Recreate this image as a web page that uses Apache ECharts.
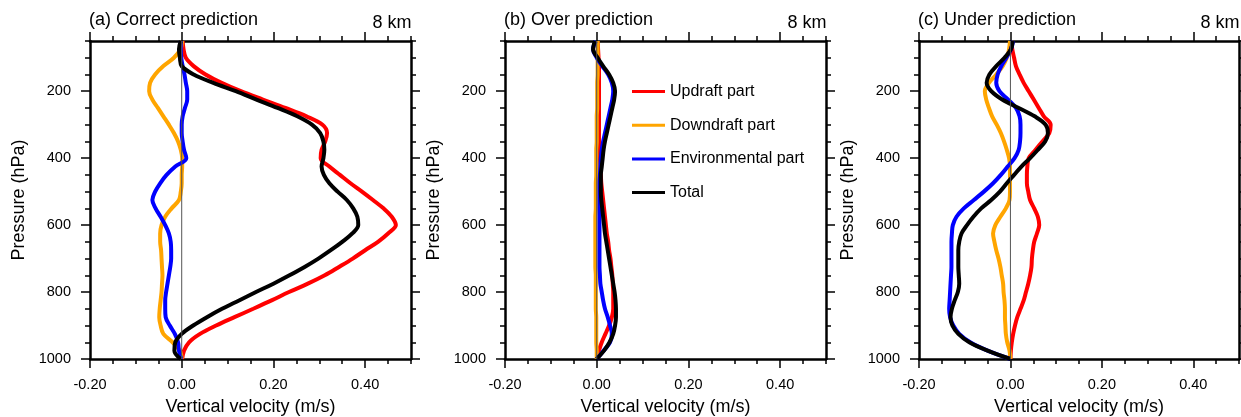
<!DOCTYPE html>
<html><head><meta charset="utf-8">
<script src="https://cdn.jsdelivr.net/npm/echarts@6/dist/echarts.min.js"></script>
<style>html,body{margin:0;padding:0;background:#fff}#c{width:1241px;height:417px}</style>
</head><body><div id="c"></div>
<script>
// ---------- data ----------
const PRESSURE = [50,75,100,125,150,175,200,225,250,275,300,325,350,375,400,425,450,475,500,525,550,575,600,625,650,675,700,725,750,775,800,825,850,875,900,925,950,975,1000];

const SERIES_NAMES = ['Updraft part','Downdraft part','Environmental part','Total'];
const PANEL_TITLES = ['(a) Correct prediction','(b) Over prediction','(c) Under prediction'];
const HEIGHT_LABEL = '8 km';
const X_NAME = 'Vertical velocity (m/s)';
const Y_NAME = 'Pressure (hPa)';

// (a) Correct prediction
const A_UPDRAFT = [0.002,0.004,0.009,0.026,0.052,0.087,0.129,0.177,0.226,0.272,0.307,0.317,0.313,0.305,0.303,0.322,0.345,0.368,0.393,0.417,0.44,0.458,0.467,0.45,0.428,0.40,0.373,0.343,0.312,0.275,0.234,0.196,0.156,0.115,0.075,0.040,0.016,0.005,0.001];
const A_DOWNDRAFT = [0.001,-0.003,-0.017,-0.04,-0.058,-0.069,-0.071,-0.064,-0.052,-0.04,-0.028,-0.017,-0.008,-0.002,0.001,0.001,0.0,0.0,-0.002,-0.006,-0.022,-0.036,-0.044,-0.047,-0.047,-0.045,-0.044,-0.043,-0.042,-0.043,-0.044,-0.046,-0.048,-0.049,-0.046,-0.04,-0.02,-0.004,0.0];
const A_ENVIRONMENT = [-0.002,-0.002,-0.001,0.002,0.006,0.009,0.012,0.012,0.007,0.002,0.0,0.0,0.002,0.005,0.01,-0.014,-0.033,-0.047,-0.058,-0.064,-0.057,-0.046,-0.036,-0.028,-0.024,-0.023,-0.023,-0.025,-0.028,-0.031,-0.034,-0.036,-0.036,-0.035,-0.026,-0.015,-0.008,-0.006,-0.001];
const A_TOTAL = [-0.002,-0.006,-0.004,0.0,0.026,0.069,0.118,0.163,0.209,0.252,0.284,0.302,0.309,0.311,0.309,0.305,0.31,0.322,0.34,0.36,0.374,0.383,0.385,0.372,0.35,0.325,0.298,0.268,0.235,0.2,0.162,0.125,0.088,0.055,0.025,0.0,-0.014,-0.016,-0.002];

// (b) Over prediction
const B_UPDRAFT = [0.002,0.003,0.004,0.005,0.005,0.005,0.005,0.005,0.005,0.005,0.005,0.005,0.005,0.006,0.007,0.008,0.009,0.01,0.012,0.014,0.016,0.018,0.02,0.022,0.025,0.027,0.03,0.032,0.034,0.035,0.036,0.036,0.036,0.033,0.027,0.019,0.011,0.005,0.001];
const B_DOWNDRAFT = [0.002,0.002,0.002,0.002,0.002,0.001,0.001,0.001,0.001,0.0,0.0,0.0,0.0,-0.001,-0.001,-0.001,-0.001,-0.002,-0.002,-0.002,-0.002,-0.003,-0.003,-0.003,-0.003,-0.003,-0.003,-0.003,-0.002,-0.002,-0.002,-0.002,-0.002,-0.001,-0.001,-0.001,-0.001,0.0,0.0];
const B_ENVIRONMENT = [-0.002,-0.008,0.0,0.012,0.025,0.033,0.036,0.034,0.03,0.026,0.022,0.018,0.014,0.011,0.009,0.008,0.007,0.006,0.006,0.006,0.006,0.006,0.006,0.006,0.006,0.006,0.006,0.006,0.007,0.008,0.011,0.014,0.018,0.024,0.029,0.033,0.029,0.015,0.0];
const B_TOTAL = [-0.004,-0.008,0.002,0.014,0.027,0.036,0.04,0.038,0.034,0.03,0.026,0.022,0.018,0.015,0.013,0.011,0.009,0.009,0.009,0.01,0.012,0.014,0.016,0.018,0.021,0.024,0.027,0.03,0.033,0.036,0.039,0.041,0.042,0.042,0.04,0.036,0.028,0.016,0.0];

// (c) Under prediction
const C_UPDRAFT = [0.002,0.004,0.008,0.012,0.02,0.029,0.04,0.051,0.062,0.073,0.088,0.085,0.07,0.055,0.04,0.037,0.036,0.036,0.039,0.043,0.052,0.06,0.063,0.058,0.052,0.049,0.047,0.046,0.043,0.039,0.034,0.029,0.022,0.015,0.01,0.006,0.003,0.001,0.0];
const C_DOWNDRAFT = [-0.001,-0.003,-0.008,-0.017,-0.031,-0.047,-0.056,-0.053,-0.047,-0.04,-0.03,-0.021,-0.014,-0.008,-0.003,-0.001,-0.001,-0.001,-0.001,-0.002,-0.01,-0.022,-0.033,-0.038,-0.035,-0.031,-0.026,-0.022,-0.019,-0.016,-0.015,-0.013,-0.012,-0.012,-0.011,-0.01,-0.007,-0.002,0.0];
const C_ENVIRONMENT = [0.006,0.001,-0.009,-0.02,-0.028,-0.031,-0.024,-0.005,0.012,0.02,0.022,0.022,0.021,0.018,0.009,-0.006,-0.021,-0.038,-0.058,-0.08,-0.102,-0.118,-0.126,-0.128,-0.129,-0.129,-0.129,-0.129,-0.13,-0.131,-0.132,-0.133,-0.134,-0.132,-0.125,-0.112,-0.088,-0.05,0.0];
const C_TOTAL = [0.005,0.001,-0.013,-0.031,-0.046,-0.052,-0.042,-0.018,0.018,0.053,0.077,0.082,0.076,0.06,0.043,0.024,0.008,-0.008,-0.023,-0.042,-0.064,-0.081,-0.095,-0.107,-0.112,-0.114,-0.114,-0.114,-0.113,-0.112,-0.115,-0.122,-0.128,-0.131,-0.127,-0.114,-0.09,-0.05,0.0];

const X_MIN = -0.2, X_MAX = 0.5, X_MINOR_STEP = 0.05;
const X_TICKS = [-0.2, 0, 0.2, 0.4];
const Y_MIN = 50, Y_MAX = 1000, Y_MINOR_STEP = 50;
const Y_TICKS = [200, 400, 600, 800, 1000];

// ---------- styling / layout ----------
const PANELS = [
  [A_UPDRAFT, A_DOWNDRAFT, A_ENVIRONMENT, A_TOTAL],
  [B_UPDRAFT, B_DOWNDRAFT, B_ENVIRONMENT, B_TOTAL],
  [C_UPDRAFT, C_DOWNDRAFT, C_ENVIRONMENT, C_TOTAL]
];
const COLORS = ['#ff0000', '#ffa500', '#0000ff', '#000000'];
const FONT = '"Liberation Sans", Arial, Helvetica, sans-serif';
const LEFTS = [90, 505, 919];
const WIDTHS = [321, 321, 320];
const TOP = 41, HEIGHT = 318;
const W = 1241;

const grid = [], xAxis = [], yAxis = [], series = [], title = [];

function tickStyle(len){ return { show: true, inside: false, length: len, lineStyle: { color: '#000', width: 1.5 } }; }

PANELS.forEach((vals, i) => {
  const g = { left: LEFTS[i], top: TOP, width: WIDTHS[i], height: HEIGHT, containLabel: false, outerBoundsMode: 'none' };
  grid.push(Object.assign({}, g), Object.assign({}, g));
  const gMain = 2 * i, gMinor = 2 * i + 1;
  const lineMain = { show: true, onZero: false, lineStyle: { color: '#000', width: 2.5 } };
  // x axes
  xAxis.push({
    type: 'value', gridIndex: gMain, position: 'bottom', min: X_MIN, max: X_MAX,
    axisLine: lineMain,
    axisTick: Object.assign(tickStyle(9), { customValues: X_TICKS }),
    axisLabel: { show: true, customValues: X_TICKS, formatter: v => v.toFixed(2), margin: 19, fontSize: 14.5, color: '#000', fontFamily: FONT, lineHeight: 14 },
    splitLine: { show: false },
    name: X_NAME, nameLocation: 'middle', nameGap: 39.5,
    nameTextStyle: { fontSize: 18, color: '#000', fontFamily: FONT, lineHeight: 18 }
  });
  xAxis.push({
    type: 'value', gridIndex: gMain, position: 'top', min: X_MIN, max: X_MAX,
    axisLine: lineMain,
    axisTick: Object.assign(tickStyle(9), { customValues: X_TICKS }),
    axisLabel: { show: false }, splitLine: { show: false }
  });
  xAxis.push({
    type: 'value', gridIndex: gMinor, position: 'bottom', min: X_MIN, max: X_MAX, interval: X_MINOR_STEP,
    axisLine: { show: false, onZero: false }, axisTick: tickStyle(5),
    axisLabel: { show: false }, splitLine: { show: false }
  });
  xAxis.push({
    type: 'value', gridIndex: gMinor, position: 'top', min: X_MIN, max: X_MAX, interval: X_MINOR_STEP,
    axisLine: { show: false, onZero: false }, axisTick: tickStyle(5),
    axisLabel: { show: false }, splitLine: { show: false }
  });
  // y axes
  yAxis.push({
    type: 'value', gridIndex: gMain, position: 'left', inverse: true, min: Y_MIN, max: Y_MAX,
    axisLine: lineMain,
    axisTick: Object.assign(tickStyle(9), { customValues: Y_TICKS }),
    axisLabel: { show: true, customValues: Y_TICKS, formatter: v => String(v), margin: 19, fontSize: 14.5, color: '#000', fontFamily: FONT, lineHeight: 14 },
    splitLine: { show: false },
    name: Y_NAME, nameLocation: 'middle', nameGap: 62,
    nameTextStyle: { fontSize: 18, color: '#000', fontFamily: FONT, lineHeight: 18 }
  });
  yAxis.push({
    type: 'value', gridIndex: gMain, position: 'right', inverse: true, min: Y_MIN, max: Y_MAX,
    axisLine: lineMain,
    axisTick: Object.assign(tickStyle(9), { customValues: Y_TICKS }),
    axisLabel: { show: false }, splitLine: { show: false }
  });
  yAxis.push({
    type: 'value', gridIndex: gMinor, position: 'left', inverse: true, min: Y_MIN, max: Y_MAX, interval: Y_MINOR_STEP,
    axisLine: { show: false, onZero: false }, axisTick: tickStyle(5),
    axisLabel: { show: false }, splitLine: { show: false }
  });
  yAxis.push({
    type: 'value', gridIndex: gMinor, position: 'right', inverse: true, min: Y_MIN, max: Y_MAX, interval: Y_MINOR_STEP,
    axisLine: { show: false, onZero: false }, axisTick: tickStyle(5),
    axisLabel: { show: false }, splitLine: { show: false }
  });

  const xi = 4 * i, yi = 4 * i;
  vals.forEach((arr, k) => {
    series.push({
      type: 'line', name: SERIES_NAMES[k], xAxisIndex: xi, yAxisIndex: yi,
      data: PRESSURE.map((p, j) => [arr[j], p]),
      symbol: 'none', smooth: 0.35, z: 2 + k,
      lineStyle: { color: COLORS[k], width: 4 }, itemStyle: { color: COLORS[k] },
      silent: true
    });
  });
  series.push({
    type: 'line', name: 'zero', xAxisIndex: xi, yAxisIndex: yi,
    data: [[0, Y_MIN], [0, Y_MAX]], symbol: 'none', z: 10, silent: true,
    lineStyle: { color: '#555', width: 1 }
  });

  title.push({
    text: PANEL_TITLES[i], left: LEFTS[i] - 1, top: 11, padding: 0,
    textStyle: { fontSize: 18, fontWeight: 'normal', color: '#000', fontFamily: FONT, lineHeight: 18 }
  });
  title.push({
    text: HEIGHT_LABEL, right: Math.max(0, W - (LEFTS[i] + WIDTHS[i]) - 0.5), top: 14, padding: 0,
    textStyle: { fontSize: 18, fontWeight: 'normal', color: '#000', fontFamily: FONT, lineHeight: 18 }
  });
});

const option = {
  animation: false,
  backgroundColor: '#fff',
  textStyle: { fontFamily: FONT },
  title, grid, xAxis, yAxis, series,
  legend: {
    data: SERIES_NAMES, orient: 'vertical', left: 632, top: 83.5,
    icon: 'rect', itemWidth: 33, itemHeight: 3, itemGap: 17.7, padding: 0, selectedMode: false,
    textStyle: { fontSize: 16, color: '#000', fontFamily: FONT, lineHeight: 16 }
  }
};

const chart = echarts.init(document.getElementById('c'), null, { renderer: 'canvas' });
chart.setOption(option);
</script>
</body></html>
